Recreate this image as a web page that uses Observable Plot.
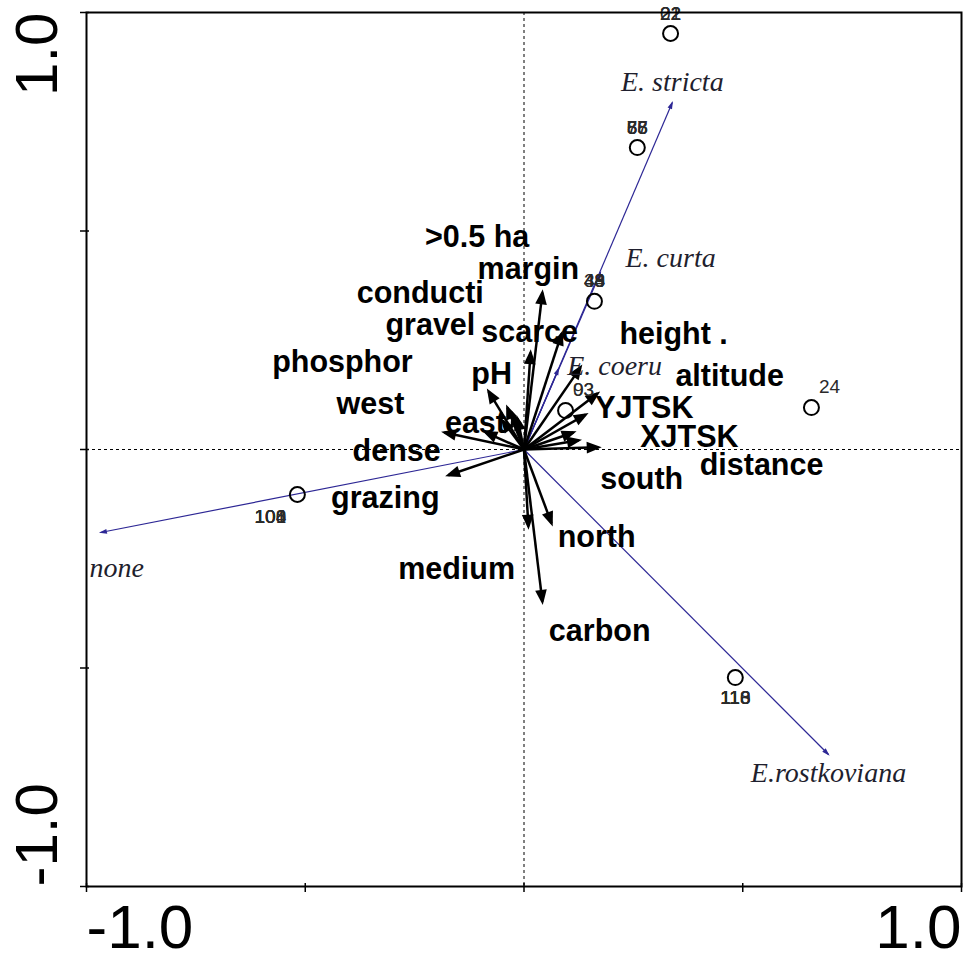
<!DOCTYPE html>
<html>
<head>
<meta charset="utf-8">
<script src="https://cdn.jsdelivr.net/npm/d3@7"></script>
<script src="https://cdn.jsdelivr.net/npm/@observablehq/plot@0.6"></script>
<style>
  html, body { margin: 0; padding: 0; background: #fff; }
</style>
</head>
<body>
<div id="chart"></div>
<script>
// Environmental variables (arrow tips and label positions, in axis units)
const envNames  = [">0.5 ha", "margin", "conducti", "gravel", "scarce", "height .", "phosphor", "pH", "altitude", "west",
                   "YJTSK", "east", "XJTSK", "dense", "distance", "south", "grazing", "north", "medium", "carbon"];
const envX      = [0.015, 0.042, -0.026, -0.015, 0.086, 0.129, -0.049, -0.081, 0.141, -0.088,
                   0.168, -0.038, 0.170, -0.182, 0.125, 0.113, -0.173, 0.063, 0.010, 0.042];
const envY      = [0.222, 0.359, 0.082, 0.071, 0.265, 0.188, 0.066, 0.133, 0.080, 0.039,
                   0.128, 0.096, 0.005, 0.039, 0.021, 0.039, -0.059, -0.169, -0.176, -0.348];
const envLabelX = [-0.107, 0.010, -0.237, -0.214, 0.013, 0.342, -0.415, -0.074, 0.470, -0.351,
                   0.275, -0.111, 0.378, -0.291, 0.543, 0.269, -0.317, 0.166, -0.154, 0.173];
const envLabelY = [0.485, 0.412, 0.357, 0.284, 0.268, 0.263, 0.199, 0.172, 0.167, 0.103,
                   0.094, 0.059, 0.027, -0.005, -0.037, -0.069, -0.112, -0.201, -0.275, -0.416];

// Species arrows
const spNames  = ["E. stricta", "E. curta", "E. coeru", "none", "E.rostkoviana"];
const spX      = [0.339, 0.175, 0.079, -0.968, 0.696];
const spY      = [0.794, 0.405, 0.185, -0.190, -0.698];
const spLabelX = [0.339, 0.335, 0.207, -0.931, 0.696];
const spLabelY = [0.840, 0.439, 0.192, -0.272, -0.741];

// Samples (circles) and their (overlapping) labels
const sampleX   = [0.335, 0.259, 0.161, 0.095, 0.657, -0.518, 0.483];
const sampleY   = [0.952, 0.691, 0.339, 0.089, 0.096, -0.103, -0.522];
const sampleIds = [["21", "22", "02"], ["55", "66", "77", "88"], ["33", "44", "48", "49"], ["03", "93"], ["24"],
                   ["100", "101", "104", "108"], ["110", "113", "116", "118"]];
const samplePos = ["above", "above", "above", "upright", "upright", "downleft", "below"];

// Axis ticks
const xTicks = [-1, -0.5, 0, 0.5, 1];
const yTicks = [-1, -0.5, 0, 0.5, 1];
const edgeLabels = [-1, 1];

const env = envNames.map((name, i) => ({name, x: envX[i], y: envY[i], lx: envLabelX[i], ly: envLabelY[i]}));
const species = spNames.map((name, i) => ({name, x: spX[i], y: spY[i], lx: spLabelX[i], ly: spLabelY[i]}));
const samples = sampleX.map((x, i) => ({x, y: sampleY[i]}));
const offsets = {above: [0, -20], upright: [18, -21], downleft: [-27, 22], below: [0, 20]};
const sampleLabels = [];
sampleIds.forEach((ids, i) => ids.forEach(id => sampleLabels.push({x: sampleX[i], y: sampleY[i], id, pos: samplePos[i]})));
const byPos = p => sampleLabels.filter(d => d.pos === p);

const sans = "'Liberation Sans', Arial, Helvetica, sans-serif";
const serif = "'Liberation Serif', 'Times New Roman', serif";
const navy = "#2d2795";

const marks = [
  Plot.ruleX([0], {stroke: "#000", strokeWidth: 1, strokeDasharray: "3,3"}),
  Plot.ruleY([0], {stroke: "#000", strokeWidth: 1, strokeDasharray: "3,3"}),
  Plot.link(species, {x1: 0, y1: 0, x2: "x", y2: "y", stroke: navy, strokeWidth: 1.2, markerEnd: "arrow"}),
  Plot.link(env, {x1: 0, y1: 0, x2: "x", y2: "y", stroke: "#000", strokeWidth: 2.5, markerEnd: "arrow"}),
  Plot.dot(samples, {x: "x", y: "y", r: 7.5, stroke: "#000", strokeWidth: 2, fill: "none"}),
  ...Object.keys(offsets).map(p => Plot.text(byPos(p), {
    x: "x", y: "y", text: "id", dx: offsets[p][0], dy: offsets[p][1],
    fontSize: 19, fontFamily: sans, fill: "#2a2a2a"
  })),
  Plot.text(env, {x: "lx", y: "ly", text: "name", fontSize: 30.5, fontWeight: "bold", fontFamily: sans, fill: "#000",
    letterSpacing: 1.3}),
  Plot.text(species, {x: "lx", y: "ly", text: "name", fontSize: 28, fontStyle: "italic", fontFamily: serif, fill: "#1f1f2e"}),
  Plot.frame({stroke: "#000", strokeWidth: 2}),
  Plot.axisX({ticks: xTicks, tickSize: 9, dy: -3, tickFormat: () => "", strokeWidth: 1.5}),
  Plot.axisY({ticks: yTicks, tickSize: 9, dx: 3, tickFormat: () => "", strokeWidth: 1.5}),
  Plot.text(edgeLabels.filter(d => d < 0), {x: d => d, y: -1, text: d => d.toFixed(1), textAnchor: "start",
    dy: 42, fontSize: 62, fontFamily: sans, fill: "#000"}),
  Plot.text(edgeLabels.filter(d => d > 0), {x: d => d, y: -1, text: d => d.toFixed(1), textAnchor: "end",
    dy: 42, fontSize: 62, fontFamily: sans, fill: "#000"}),
  Plot.text(edgeLabels.filter(d => d > 0), {x: -1, y: d => d, text: d => d.toFixed(1), textAnchor: "end",
    rotate: -90, dx: -49, fontSize: 60, fontFamily: sans, fill: "#000"}),
  Plot.text(edgeLabels.filter(d => d < 0), {x: -1, y: d => d, text: d => d.toFixed(1), textAnchor: "start",
    rotate: -90, dx: -49, fontSize: 60, fontFamily: sans, fill: "#000"})
];

const chart = Plot.plot({
  width: 963,
  height: 963,
  marginLeft: 86,
  marginRight: 2,
  marginTop: 12,
  marginBottom: 77,
  x: {domain: [-1, 1], axis: null},
  y: {domain: [-1, 1], axis: null},
  style: {background: "#fff", overflow: "visible"},
  marks
});

// turn Plot's open arrow markers into filled arrowheads
chart.querySelectorAll("marker").forEach(m => {
  const c = m.getAttribute("stroke") || "#000";
  m.setAttribute("fill", c);
  m.setAttribute("stroke", "none");
  m.style.overflow = "visible";
  const p = m.querySelector("path");
  if (p) {
    p.setAttribute("d", c.toLowerCase() === navy ? "M-8,-3L2,0L-8,3Z" : "M-7,-3.5L2,0L-7,3.5Z");
  }
});

document.getElementById("chart").appendChild(chart);
</script>
</body>
</html>
